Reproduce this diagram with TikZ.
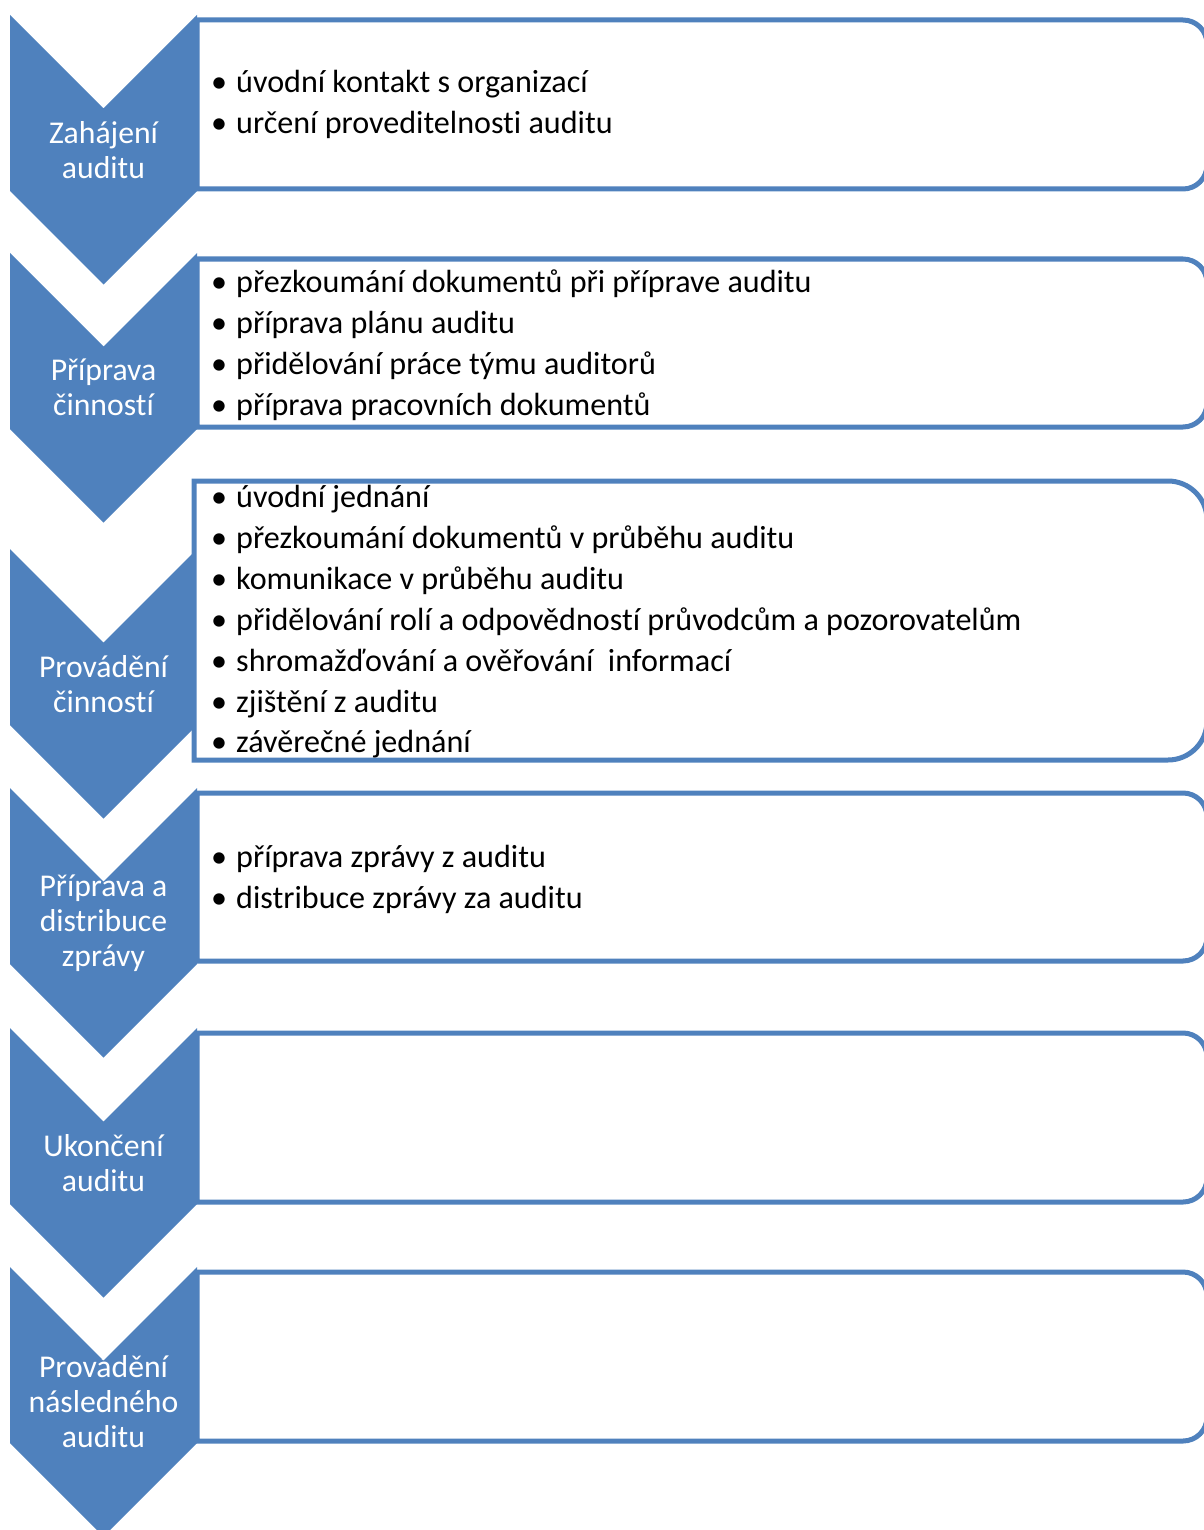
\documentclass[tikz,border=0pt]{standalone}
\usepackage{fontspec}
\setmainfont{Carlito}[Ligatures=NoCommon]
\definecolor{accent}{HTML}{4F81BD}
% one bulleted line: name, baseline, text
\newcommand\entry[3]{%
  \node[dot] (d#1) at (219,#2) {\textbullet};
  \node[item] (t#1) at (236,#2) {#3};}
\begin{document}
\begin{tikzpicture}[x=1pt,y=-1pt,
  panel/.style={draw=accent,line width=5pt,fill=white},
  phase/.style={text=white,align=center,inner sep=0pt,font=\fontsize{31.7}{35}\selectfont},
  item/.style={anchor=base west,inner sep=0pt,font=\fontsize{32.1}{41}\selectfont},
  dot/.style={anchor=base,inner sep=0pt,font=\fontsize{32.1}{41}\selectfont}]
\useasboundingbox (0,0) rectangle (1203,1530);

% chevrons of the six phases
\foreach \t in {15,253,549,788,1028,1267}
  \fill[accent] (10,\t) -- (103.5,\t+93.5) -- (197,\t) -- (197,\t+176)
    -- (103.5,\t+269.5) -- (10,\t+176) -- cycle;

% activity panels, rounded on the right side only
\foreach \l/\t/\b/\r in {197/20/189/24,197/259/427/24,194/481/760/39,
                         197/793/961/24,197/1033/1202/24,197/1272/1441/24}
  \draw[panel] (\l,\t) -- (1207-\r,\t) arc(-90:0:\r) -- (1207,\b-\r)
    arc(0:90:\r) -- (\l,\b) -- cycle;

% phase names
\node[phase] (ph1) at (103.5,149.75)  {Zahájení\\auditu};
\node[phase] (ph2) at (103.5,387.75)  {Příprava\\činností};
\node[phase] (ph3) at (103.5,683.75)  {Provádění\\činností};
\node[phase] (ph4) at (103.5,922.75)  {Příprava a\\distribuce\\zprávy};
\node[phase] (ph5) at (103.5,1162.75) {Ukončení\\auditu};
\node[phase] (ph6) at (103.5,1401.75) {Provádění\\následného\\auditu};

% bulleted activities
\entry{a1}{93}{úvodní kontakt s organizací}
\entry{a2}{134}{určení proveditelnosti auditu}

\entry{b1}{292}{přezkoumání dokumentů při příprave auditu}
\entry{b2}{333}{příprava plánu auditu}
\entry{b3}{374}{přidělování práce týmu auditorů}
\entry{b4}{415}{příprava pracovních dokumentů}

\entry{c1}{507}{úvodní jednání}
\entry{c2}{548}{přezkoumání dokumentů v průběhu auditu}
\entry{c3}{589}{komunikace v průběhu auditu}
\entry{c4}{630}{přidělování rolí a odpovědností průvodcům a pozorovatelům}
\entry{c5}{671}{shromažďování a ověřování~ informací}
\entry{c6}{712}{zjištění z auditu}
\entry{c7}{752}{závěrečné jednání}

\entry{d1}{867}{příprava zprávy z auditu}
\entry{d2}{908}{distribuce zprávy za auditu}
\end{tikzpicture}
\end{document}
